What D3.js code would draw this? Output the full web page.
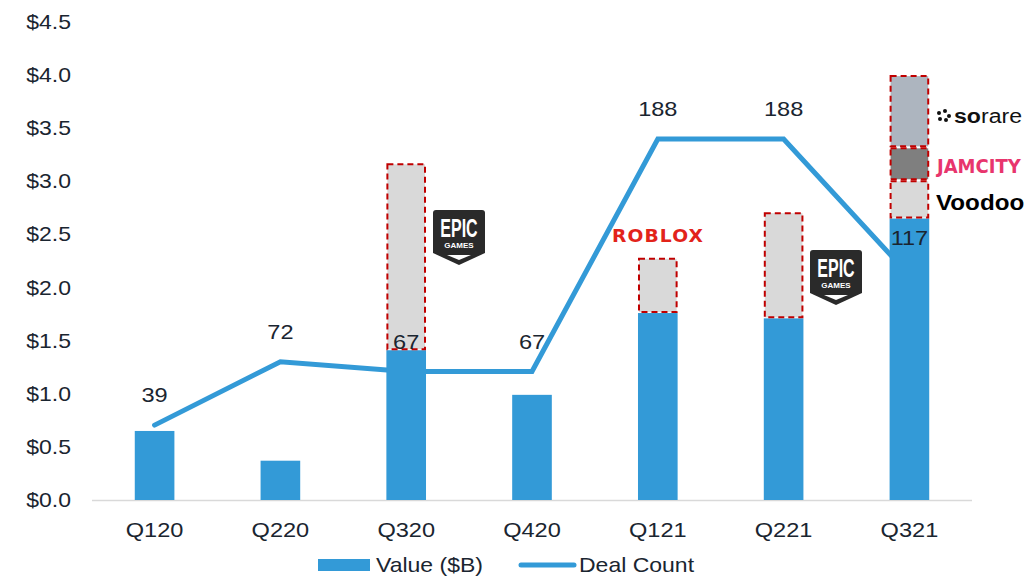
<!DOCTYPE html>
<html>
<head>
<meta charset="utf-8">
<script src="https://cdn.jsdelivr.net/npm/d3@7"></script>
<style>
  body { margin: 0; background: #fff; }
  text { font-family: "Liberation Sans", Arial, sans-serif; fill: #1a2530; }
</style>
</head>
<body>
<div id="chart"></div>
<script>
const quarters = ["Q120", "Q220", "Q320", "Q420", "Q121", "Q221", "Q321"];
const baseValue = [0.65, 0.37, 1.41, 0.99, 1.76, 1.71, 2.65];
const dealCount = [39, 72, 67, 67, 188, 188, 117];
// dashed deal boxes stacked on the blue bars: [quarter, from, to, kind]
const dealBoxes = [
  ["Q320", 1.41, 3.17, "light"],
  ["Q121", 1.76, 2.28, "light"],
  ["Q221", 1.71, 2.71, "light"],
  ["Q321", 2.65, 3.01, "light"],
  ["Q321", 3.01, 3.32, "dark"],
  ["Q321", 3.32, 4.0, "slate"]
];
const yTicks = [0, 0.5, 1, 1.5, 2, 2.5, 3, 3.5, 4, 4.5];

const width = 1027, height = 577;
const blue = "#339ad7";
const boxFill = { light: "#d9d9d9", dark: "#7f7f7f", slate: "#adb5bf" };
const sx = 1.15; // text in the reference is a bit wider than normal

const svg = d3.select("#chart").append("svg")
  .attr("width", width).attr("height", height);

const x = d3.scaleBand().domain(quarters).range([92, 972]).paddingInner(0.685).paddingOuter(0.34);
const y = d3.scaleLinear().domain([0, 4.5]).range([500, 22]);
const yCount = d3.scaleLinear().domain([0, 249]).range([500, 22]);
const cx = q => x(q) + x.bandwidth() / 2;
const at = (px, py) => `translate(${px},${py}) scale(${sx},1)`;

// y axis labels
svg.append("g").selectAll("text").data(yTicks).enter().append("text")
  .attr("transform", d => at(71, y(d))).attr("dy", "0.35em")
  .attr("text-anchor", "end").style("font-size", "20px")
  .text(d => "$" + d.toFixed(1));

// baseline
svg.append("line").attr("x1", 92).attr("x2", 972).attr("y1", 500.5).attr("y2", 500.5)
  .attr("stroke", "#d9d9d9").attr("stroke-width", 1.5);

// category labels
svg.append("g").selectAll("text").data(quarters).enter().append("text")
  .attr("transform", d => at(cx(d), 530)).attr("dy", "0.35em")
  .attr("text-anchor", "middle").style("font-size", "20.5px")
  .text(d => d);

// deal count line (behind bars)
const line = d3.line().x((d, i) => cx(quarters[i])).y(d => yCount(d));
svg.append("path").datum(dealCount).attr("d", line)
  .attr("fill", "none").attr("stroke", blue).attr("stroke-width", 5)
  .attr("stroke-linecap", "round").attr("stroke-linejoin", "miter");

// blue bars
svg.append("g").selectAll("rect").data(baseValue).enter().append("rect")
  .attr("x", (d, i) => x(quarters[i])).attr("width", x.bandwidth())
  .attr("y", d => y(d)).attr("height", d => y(0) - y(d))
  .attr("fill", blue);

// dashed boxes
svg.append("g").selectAll("rect").data(dealBoxes).enter().append("rect")
  .attr("x", d => x(d[0]) + 1).attr("width", x.bandwidth() - 2)
  .attr("y", d => y(d[2]) + 1).attr("height", d => y(d[1]) - y(d[2]) - 2)
  .attr("fill", d => boxFill[d[3]])
  .attr("stroke", "#c00000").attr("stroke-width", 2).attr("stroke-dasharray", "6,4");

// count labels
svg.append("g").selectAll("text").data(dealCount).enter().append("text")
  .attr("transform", (d, i) => at(cx(quarters[i]), yCount(d) - (i === 6 ? 38 : 30)))
  .attr("dy", "0.35em")
  .attr("text-anchor", "middle").style("font-size", "20.5px")
  .text(d => d);

// logos, drawn as text badges
function epicBadge(px, top) {
  const g = svg.append("g").attr("transform", `translate(${px},${top})`);
  g.append("path")
    .attr("d", "M-23,0 h46 a3,3 0 0 1 3,3 v40 l-26,12 l-26,-12 v-40 a3,3 0 0 1 3,-3 z")
    .attr("fill", "#2a2a2a");
  g.append("text").attr("transform", "translate(0,27) scale(0.8,1.25)").attr("text-anchor", "middle")
    .style("font-size", "20px").style("font-weight", "bold")
    .style("fill", "#fff").text("EPIC");
  g.append("text").attr("x", 0).attr("y", 38).attr("text-anchor", "middle")
    .style("font-size", "8px").style("font-weight", "bold").style("fill", "#fff")
    .text("GAMES");
  g.append("path").attr("d", "M-12,45 h24 l-12,5 z").attr("fill", "#fff");
}
epicBadge(459, 210);
epicBadge(836, 250);

svg.append("text").attr("transform", "translate(658,236) scale(1.1,1)").attr("dy", "0.35em")
  .attr("text-anchor", "middle").style("font-size", "17px").style("font-weight", "900")
  .style("font-family", "'DejaVu Sans', sans-serif").style("letter-spacing", "1px")
  .style("fill", "#e2231a").text("ROBLOX");

const sorare = svg.append("g").attr("transform", "translate(937,116)");
[[2, -3], [8, -5], [3, 3], [9, 4], [12, 0]].forEach(p =>
  sorare.append("circle").attr("cx", p[0]).attr("cy", p[1]).attr("r", 2).attr("fill", "#111"));
sorare.append("text").attr("transform", "translate(17,0) scale(1.1,1)").attr("dy", "0.35em")
  .style("font-size", "21px").style("fill", "#111")
  .html('<tspan font-weight="bold">so</tspan>rare');

svg.append("text").attr("x", 937).attr("y", 166).attr("dy", "0.35em")
  .style("font-size", "20px").style("font-weight", "900")
  .style("font-family", "'DejaVu Sans Condensed', 'DejaVu Sans', sans-serif")
  .style("fill", "#e8356d").text("JAMCITY");

svg.append("text").attr("transform", "translate(936,202) scale(1.1,1)").attr("dy", "0.35em")
  .style("font-size", "22px").style("font-weight", "bold").style("fill", "#000")
  .text("Voodoo");

// legend
svg.append("rect").attr("x", 318).attr("y", 559).attr("width", 52).attr("height", 12).attr("fill", blue);
svg.append("text").attr("transform", at(376, 565)).attr("dy", "0.35em").style("font-size", "20px").text("Value ($B)");
svg.append("line").attr("x1", 521).attr("x2", 574).attr("y1", 565).attr("y2", 565)
  .attr("stroke", blue).attr("stroke-width", 5).attr("stroke-linecap", "round");
svg.append("text").attr("transform", at(579, 565)).attr("dy", "0.35em").style("font-size", "20px").text("Deal Count");
</script>
</body>
</html>
